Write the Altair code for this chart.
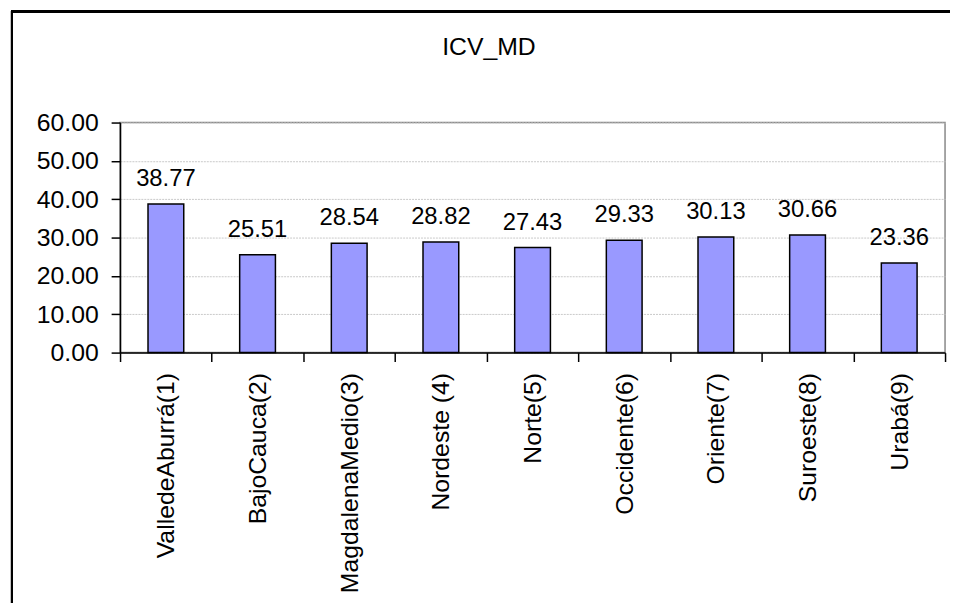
import altair as alt
import pandas as pd

regions = ["ValledeAburrá(1)", "BajoCauca(2)", "MagdalenaMedio(3)", "Nordeste (4)",
           "Norte(5)", "Occidente(6)", "Oriente(7)", "Suroeste(8)", "Urabá(9)"]
values = [38.77, 25.51, 28.54, 28.82, 27.43, 29.33, 30.13, 30.66, 23.36]
y_ticks = [0, 10, 20, 30, 40, 50, 60]
title_text = ["ICV_MD"]

df = pd.DataFrame({"region": regions, "value": values})
df_title = pd.DataFrame({"t": title_text})

FONT = "Liberation Sans"

x_enc = alt.X("region:N", sort=regions, title=None,
              scale=alt.Scale(paddingInner=0, paddingOuter=0),
              axis=alt.Axis(labelAngle=-90, labelFontSize=25, labelFont=FONT,
                            labelColor="black", domainColor="black", domainWidth=1.5,
                            tickColor="black", tickWidth=1.5, tickSize=9,
                            tickBand="extent", labelPadding=11, grid=False,
                            labelLimit=0, labelOverlap=False))
y_enc = alt.Y("value:Q", title=None,
              scale=alt.Scale(domain=[0, 60], nice=False),
              axis=alt.Axis(values=y_ticks, format=".2f", labelFontSize=25,
                            labelFont=FONT, labelColor="black", domainColor="black",
                            domainWidth=1.5, tickColor="black", tickWidth=1.5,
                            tickSize=9, labelPadding=13, grid=True,
                            labelOverlap=False, labelLimit=0, labelBound=False,
                            labelFlush=False,
                            gridColor="#c8c8c8", gridDash=[2, 1], gridWidth=1))

bars = alt.Chart(df).mark_bar(color="#9999FF", stroke="black", strokeWidth=1.5,
                              width=alt.RelativeBandSize(0.39)).encode(x=x_enc, y=y_enc)

labels = alt.Chart(df).mark_text(fontSize=24, font=FONT, color="black",
                                 baseline="alphabetic", dy=-18).encode(
    x=x_enc,
    y=y_enc,
    text=alt.Text("value:Q", format=".2f"))

title = alt.Chart(df_title).mark_text(fontSize=25, font=FONT, color="black",
                                      baseline="alphabetic", align="center").encode(
    x=alt.value(372), y=alt.value(-68), text="t:N")

border_top = alt.Chart(df).mark_rule(color="black", strokeWidth=2).encode(
    x=alt.value(-109), x2=alt.value(840), y=alt.value(-112))
border_left = alt.Chart(df).mark_rule(color="black", strokeWidth=2).encode(
    x=alt.value(-109), y=alt.value(-113), y2=alt.value(490))

chart = alt.layer(bars, labels, title, border_top, border_left).properties(
    width=832, height=232,
    autosize=alt.AutoSizeParams(type="none"),
    padding={"left": 113, "top": 113, "right": 5, "bottom": 250},
).configure_view(stroke="#888888", strokeWidth=1.5)

chart.save("out.html", embed_options={"renderer": "svg", "actions": False})
